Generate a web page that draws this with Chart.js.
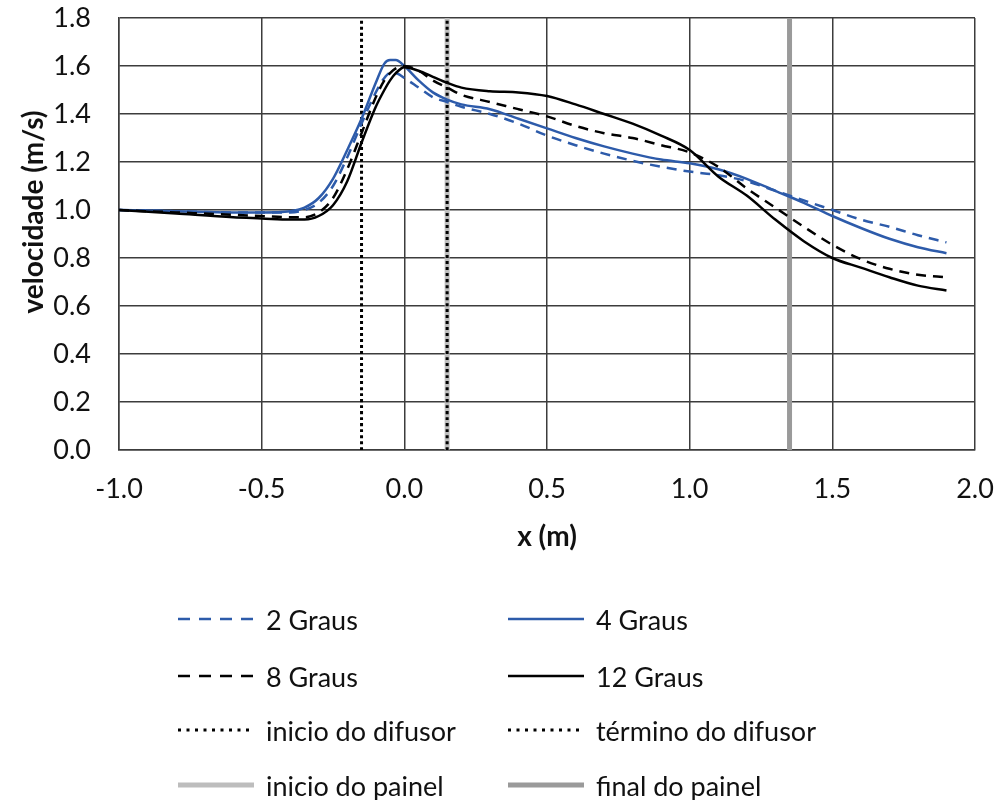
<!DOCTYPE html>
<html>
<head>
<meta charset="utf-8">
<script src="https://cdn.jsdelivr.net/npm/chart.js@4/dist/chart.umd.min.js"></script>
<style>
  html, body { margin: 0; padding: 0; background: #fff; }
  #wrap { position: relative; width: 999px; height: 800px; }
  #chartBox { position: absolute; left: 0; top: 0; width: 999px; height: 570px; }
  #legend { position: absolute; left: 0; top: 0; width: 999px; height: 800px; pointer-events: none; }
  .item { position: absolute; display: flex; align-items: center; height: 34px;
          font-family: Lato, "Open Sans", sans-serif; font-size: 27px; color: #111; white-space: nowrap; }
  .item svg { margin-right: 12px; }
  #ytitle { position: absolute; left: 32px; top: 212px; transform: translate(-50%, -50%) rotate(-90deg);
            font-family: Lato, "Open Sans", sans-serif; font-size: 28px; font-weight: bold; color: #111; white-space: nowrap; line-height: 1; }
</style>
</head>
<body>
<div id="wrap">
  <div id="chartBox"><canvas id="c"></canvas></div>
  <div id="ytitle"></div>
  <div id="legend"></div>
</div>
<script>
// ---- data ----
const xValues = [-1.0, -0.8, -0.6, -0.5, -0.4, -0.35, -0.3, -0.25, -0.2, -0.15, -0.1, -0.07, -0.05, -0.03, 0.0, 0.05, 0.1, 0.15, 0.2, 0.3, 0.4, 0.5, 0.6, 0.7, 0.8, 0.9, 1.0, 1.1, 1.2, 1.3, 1.4, 1.5, 1.6, 1.7, 1.8, 1.9];
const graus2  = [1.0, 0.995, 0.99, 0.99, 0.99, 1.0, 1.03, 1.10, 1.22, 1.36, 1.49, 1.55, 1.57, 1.57, 1.55, 1.51, 1.47, 1.45, 1.43, 1.40, 1.36, 1.31, 1.27, 1.235, 1.205, 1.18, 1.16, 1.145, 1.12, 1.08, 1.04, 1.0, 0.96, 0.93, 0.895, 0.865];
const graus4  = [1.0, 0.995, 0.99, 0.99, 0.995, 1.01, 1.05, 1.13, 1.25, 1.38, 1.53, 1.61, 1.625, 1.625, 1.60, 1.54, 1.49, 1.46, 1.44, 1.42, 1.38, 1.34, 1.30, 1.265, 1.235, 1.21, 1.195, 1.17, 1.13, 1.08, 1.03, 0.975, 0.925, 0.88, 0.845, 0.82];
const graus8  = [1.0, 0.99, 0.98, 0.975, 0.97, 0.97, 0.99, 1.05, 1.17, 1.32, 1.47, 1.54, 1.57, 1.59, 1.60, 1.58, 1.54, 1.51, 1.48, 1.45, 1.42, 1.39, 1.35, 1.32, 1.30, 1.27, 1.24, 1.18, 1.09, 1.01, 0.93, 0.855, 0.795, 0.755, 0.73, 0.72];
const graus12 = [1.0, 0.985, 0.97, 0.965, 0.96, 0.96, 0.975, 1.02, 1.12, 1.28, 1.43, 1.50, 1.54, 1.57, 1.595, 1.58, 1.555, 1.53, 1.51, 1.495, 1.49, 1.475, 1.44, 1.40, 1.36, 1.31, 1.25, 1.14, 1.06, 0.96, 0.87, 0.80, 0.76, 0.72, 0.685, 0.665];
const inicioDifusorX = -0.15;
const terminoDifusorX = 0.15;
const inicioPainelX = 0.15;
const finalPainelX = 1.35;
const yRange = [0.0, 1.8];
const xTicks = [-1.0, -0.5, 0.0, 0.5, 1.0, 1.5, 2.0];
const yTicks = [0.0, 0.2, 0.4, 0.6, 0.8, 1.0, 1.2, 1.4, 1.6, 1.8];
const seriesLabels = ['2 Graus', '4 Graus', '8 Graus', '12 Graus', 'inicio do difusor', 'término do difusor', 'inicio do painel', 'final do painel'];
const xTitle = 'x (m)';
const yTitle = 'velocidade (m/s)';

// ---- build ----
const pts = (ys) => xValues.map((x, i) => ({ x: x, y: ys[i] }));
const vline = (x) => [{ x: x, y: yRange[0] }, { x: x, y: yRange[1] }];

const BLUE = '#2D5BAA';
const DASH = [10, 7];
const DOT = [3, 3];

const datasets = [
  { label: seriesLabels[0], data: pts(graus2),  borderColor: BLUE,  borderWidth: 2.5, borderDash: DASH, order: 2 },
  { label: seriesLabels[1], data: pts(graus4),  borderColor: BLUE,  borderWidth: 2.5, borderDash: [], order: 2 },
  { label: seriesLabels[2], data: pts(graus8),  borderColor: '#000', borderWidth: 2.5, borderDash: DASH, order: 1 },
  { label: seriesLabels[3], data: pts(graus12), borderColor: '#000', borderWidth: 2.5, borderDash: [], order: 1 },
  { label: seriesLabels[4], data: vline(inicioDifusorX),  borderColor: '#000', borderWidth: 3, borderDash: DOT, order: 3 },
  { label: seriesLabels[5], data: vline(terminoDifusorX), borderColor: '#000', borderWidth: 3, borderDash: DOT, order: 3 },
  { label: seriesLabels[6], data: vline(inicioPainelX),   borderColor: '#BDBDBD', borderWidth: 5, borderDash: [], order: 4 },
  { label: seriesLabels[7], data: vline(finalPainelX),    borderColor: '#9A9A9A', borderWidth: 5, borderDash: [], order: 4 }
].map(d => Object.assign({
  showLine: true, pointRadius: 0, pointHoverRadius: 0, fill: false,
  cubicInterpolationMode: 'monotone', borderCapStyle: 'butt'
}, d));

const tickFont = { family: 'Lato, "Open Sans", sans-serif', size: 27 };
const titleFont = { family: 'Lato, "Open Sans", sans-serif', size: 28, weight: 'bold' };
const GRID = '#3C3C3C';

new Chart(document.getElementById('c'), {
  type: 'scatter',
  data: { datasets: datasets },
  options: {
    responsive: true,
    maintainAspectRatio: false,
    animation: false,
    layout: { padding: { top: 18, right: 24, left: 0, bottom: 0 } },
    plugins: { legend: { display: false }, tooltip: { enabled: false } },
    scales: {
      x: {
        type: 'linear', min: xTicks[0], max: xTicks[xTicks.length - 1],
        afterBuildTicks: (s) => { s.ticks = xTicks.map(v => ({ value: v })); },
        afterFit: (s) => { s.height = 120; s.paddingLeft = 0; s.paddingRight = 0; },
        grid: { color: GRID, lineWidth: 1.5, drawTicks: false },
        border: { color: GRID, width: 1.5 },
        ticks: { color: '#111', font: tickFont, padding: 23, maxRotation: 0, callback: (v) => Number(v).toFixed(1) },
        title: { display: true, text: xTitle, color: '#111', font: titleFont, padding: { top: 0, bottom: 16 } }
      },
      y: {
        type: 'linear', min: yRange[0], max: yRange[1],
        afterBuildTicks: (s) => { s.ticks = yTicks.map(v => ({ value: v })); },
        afterFit: (s) => { s.width = 119; s.paddingTop = 0; s.paddingBottom = 0; },
        grid: { color: GRID, lineWidth: 1.5, drawTicks: false },
        border: { color: GRID, width: 1.5 },
        ticks: { color: '#111', font: tickFont, padding: 28, callback: (v) => Number(v).toFixed(1) },
        title: { display: false }
      }
    }
  }
});

document.getElementById('ytitle').textContent = yTitle;

// ---- HTML legend built from the datasets ----
const legend = document.getElementById('legend');
const colX = [178, 508];
const rowY = [619, 676, 730, 785];
datasets.forEach((d, i) => {
  const col = i % 2, row = Math.floor(i / 2);
  const item = document.createElement('div');
  item.className = 'item';
  item.style.left = colX[col] + 'px';
  item.style.top = (rowY[row] - 17) + 'px';
  const w = 76;
  const svgNS = 'http://www.w3.org/2000/svg';
  const svg = document.createElementNS(svgNS, 'svg');
  svg.setAttribute('width', w); svg.setAttribute('height', 10);
  const ln = document.createElementNS(svgNS, 'line');
  ln.setAttribute('x1', 0); ln.setAttribute('x2', w);
  ln.setAttribute('y1', 5); ln.setAttribute('y2', 5);
  ln.setAttribute('stroke', d.borderColor);
  ln.setAttribute('stroke-width', d.borderWidth);
  if (d.borderDash === DASH) ln.setAttribute('stroke-dasharray', '12 9');
  else if (d.borderDash === DOT) ln.setAttribute('stroke-dasharray', '3 5.5');
  if (d.borderWidth >= 5) ln.setAttribute('stroke-linecap', 'round');
  svg.appendChild(ln);
  item.appendChild(svg);
  const span = document.createElement('span');
  span.textContent = d.label;
  item.appendChild(span);
  legend.appendChild(item);
});
</script>
</body>
</html>
